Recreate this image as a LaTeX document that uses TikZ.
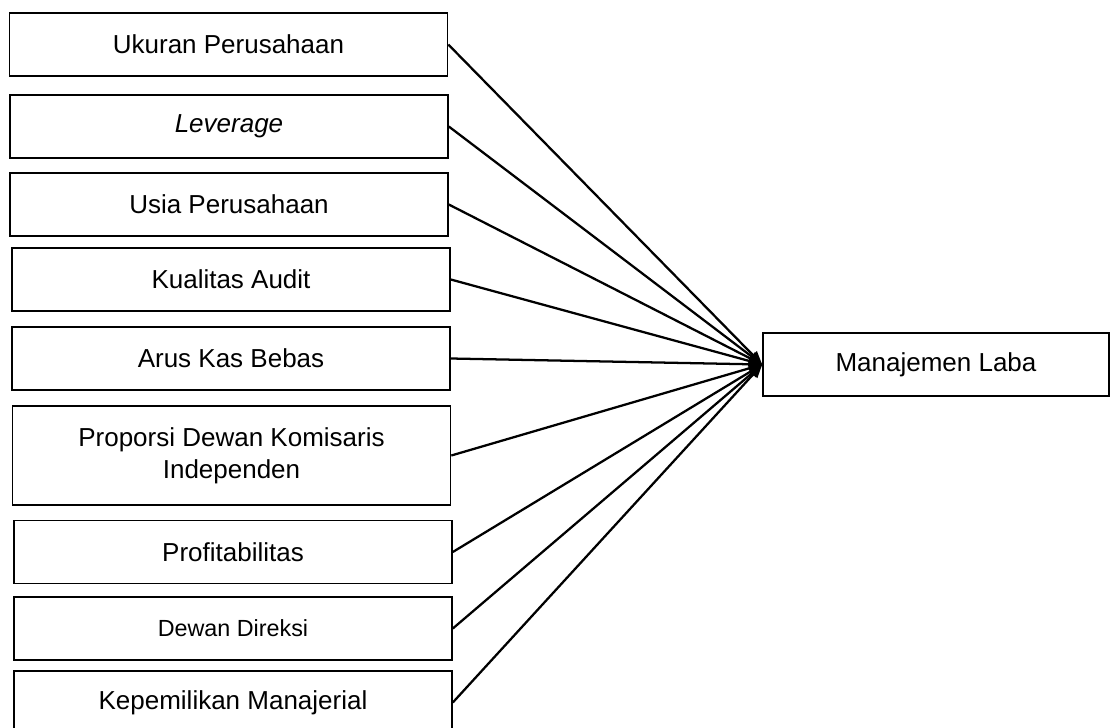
\documentclass[tikz,border=0pt]{standalone}
\usepackage{fontspec}
\setmainfont{Liberation Sans}
\usetikzlibrary{arrows.meta}

\begin{document}
\begin{tikzpicture}[
      x=0.75pt, y=-0.75pt,
      var node/.style={draw, line width=1.2pt, align=center, inner sep=0pt, minimum width=328.5pt, minimum height=47.25pt, font=\fontsize{19.5}{24}\selectfont},
      link/.style={line width=1.7pt, -{Triangle[length=10pt,width=8pt]}}
    ]
    \useasboundingbox (0,0) rectangle (1110,728);

    % Independent variables
    \node (ukuran) [var node] at (228.5,44.5) {Ukuran Perusahaan};
    \node (leverage) [var node] at (229,126.5) {\itshape Leverage};
    \node (usia) [var node] at (229,204.5) {Usia Perusahaan};
    \node (audit) [var node] at (231,279.5) {Kualitas Audit};
    \node (aruskas) [var node] at (231,358.5) {Arus Kas Bebas};
    \node (komisaris) [var node, minimum height=74.25pt] at (231.5,455.5) {Proporsi Dewan Komisaris\\Independen};
    \node (profit) [var node] at (233,552) {Profitabilitas};
    \node (direksi) [var node, font=\fontsize{17.5}{22}\selectfont] at (233,628.5) {Dewan Direksi};
    \node (manajerial) [var node] at (233,702.5) {Kepemilikan Manajerial};

    % Dependent variable
    \node (laba) [var node, minimum width=259.5pt] at (936,364.5) {Manajemen Laba};

    % Every variable points to Manajemen Laba
    \draw[link] (ukuran.east) -- (laba.west);
    \draw[link] (leverage.east) -- (laba.west);
    \draw[link] (usia.east) -- (laba.west);
    \draw[link] (audit.east) -- (laba.west);
    \draw[link] (aruskas.east) -- (laba.west);
    \draw[link] (komisaris.east) -- (laba.west);
    \draw[link] (profit.east) -- (laba.west);
    \draw[link] (direksi.east) -- (laba.west);
    \draw[link] (manajerial.east) -- (laba.west);
  \end{tikzpicture}
\end{document}
